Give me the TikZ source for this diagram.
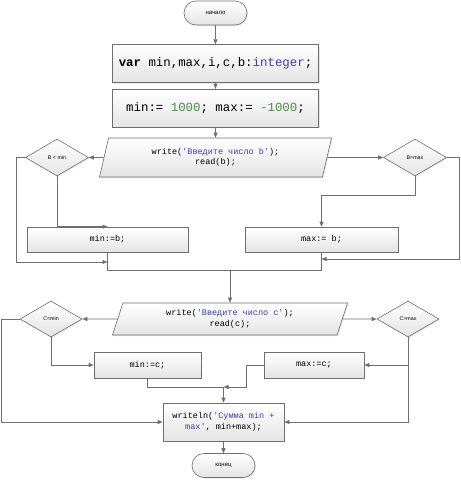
\documentclass[tikz,border=0pt]{standalone}
\usepackage{fontspec}
\setmainfont{Liberation Sans}
\setmonofont{Liberation Mono}
\usetikzlibrary{shapes.geometric, positioning, arrows.meta, shadows}
\definecolor{edge}{HTML}{6E6E6E}
\definecolor{kw}{HTML}{3C3CB0}
\definecolor{num}{HTML}{4A8C4A}
\definecolor{fillb}{HTML}{E4E4E4}

\tikzset{
    base/.style={draw=edge, line width=0.6pt, top color=white, bottom color=fillb,
        drop shadow={shadow xshift=1pt, shadow yshift=-1pt, opacity=0.2}},
    term/.style={base, rounded corners=12pt, minimum width=63pt, minimum height=24pt,
        font=\fontsize{6}{7}\selectfont},
    proc/.style={base, rectangle, inner sep=1pt, font=\ttfamily\fontsize{8.5}{10.5}\selectfont},
    bigproc/.style={proc, minimum width=206pt, minimum height=38pt,
        font=\ttfamily\fontsize{12.4}{14}\selectfont},
    io/.style={base, trapezium, trapezium left angle=66, trapezium right angle=114,
        trapezium stretches body, align=center, inner sep=1pt,
        font=\ttfamily\fontsize{8.5}{10.5}\selectfont},
    cond/.style={base, diamond, minimum width=63pt, minimum height=37pt, inner sep=0pt,
        font=\fontsize{5.3}{6}\selectfont},
    flow/.style={draw=edge, line width=0.6pt, -{Triangle[length=5pt,width=4pt]}},
    link/.style={draw=edge, line width=0.6pt},
}

\begin{document}
\begin{tikzpicture}[x=1pt, y=1pt]
    \useasboundingbox (0,0) rectangle (461,-480);
    \node[term] (start) at (215.5,-13) {начало};
    \node[bigproc, below=19pt of start] (decl) {\textbf{var} min,max,i,c,b:\textcolor{kw}{integer};};
    \node[bigproc, below=6pt of decl] (init) {min:= \textcolor{num}{1000}; max:= \textcolor{num}{-1000};};
    \node[io, minimum width=232pt, minimum height=39pt] (readb) at (215.5,-157.5)
        {write(\textcolor{kw}{'Введите число b'});\\read(b);};
    \node[cond] (bmin) at (57,-157.5) {B < min};
    \node[cond] (bmax) at (415,-157.5) {B>max};
    \node[proc, minimum width=161pt, minimum height=25pt] (setminb) at (107.5,-239.5) {min:=b;};
    \node[proc, minimum width=153pt, minimum height=25pt] (setmaxb) at (321.5,-239.5) {max:= b;};
    \coordinate (mergeb) at (230,-270);
    \coordinate (joinl) at (107.5,-262);
    \coordinate (joinr) at (321.5,-259);
    \node[io, trapezium left angle=63, trapezium right angle=117, minimum width=235pt,
        minimum height=32pt] (readc) at (230,-319)
        {write(\textcolor{kw}{'Введите число c'});\\read(c);};
    \node[cond, minimum width=62pt, minimum height=36pt] (cmin) at (51,-319) {C<min};
    \node[cond, minimum width=62pt, minimum height=36pt] (cmax) at (408,-319) {C>max};
    \node[proc, minimum width=107pt, minimum height=26pt] (setminc) at (147.5,-365) {min:=c;};
    \node[proc, minimum width=100pt, minimum height=26pt] (setmaxc) at (314,-365) {max:=c;};
    \node[proc, minimum width=121pt, minimum height=38pt, align=center] (out) at (223.5,-422)
        {writeln(\textcolor{kw}{'Сумма min +}\\\textcolor{kw}{max'}, min+max);};
    \coordinate (mergec) at (223.5,-387);
    \node[term] (stop) at (223.5,-465.5) {конец};

    \draw[flow] (start) -- (decl);
    \draw[flow] (decl) -- (init);
    \draw[flow] (init) -- (readb);
    \draw[flow] (readb) -- (bmin);
    \draw[flow] (readb) -- (bmax);
    \draw[flow] (bmin.south) |- (setminb.north);
    \draw[flow] (bmin.west) -- ++(-9,0) |- (joinl);
    \draw[flow] (bmax.south) -- ++(0,-19) -| (setmaxb.north);
    \draw[flow] (bmax.east) -- ++(12.5,0) |- (joinr);
    \draw[link] (setminb.south) |- (mergeb);
    \draw[link] (setmaxb.south) |- (mergeb);
    \draw[flow] (mergeb) -- (readc);
    \draw[flow] (readc) -- (cmin);
    \draw[flow] (readc) -- (cmax);
    \draw[flow] (cmin.west) -- ++(-18,0) |- (out.west);
    \draw[flow] (cmin.south) |- (setminc.west);
    \draw[flow] (cmax.south) |- (out.east);
    \draw[flow] (cmax.south |- setmaxc.east) -- (setmaxc.east);
    \draw[flow] (setminc.south) |- (mergec) -- (out.north);
    \draw[flow] (setmaxc.west) -- ++(-17,0) |- (mergec);
    \draw[flow] (out) -- (stop);
\end{tikzpicture}
\end{document}
